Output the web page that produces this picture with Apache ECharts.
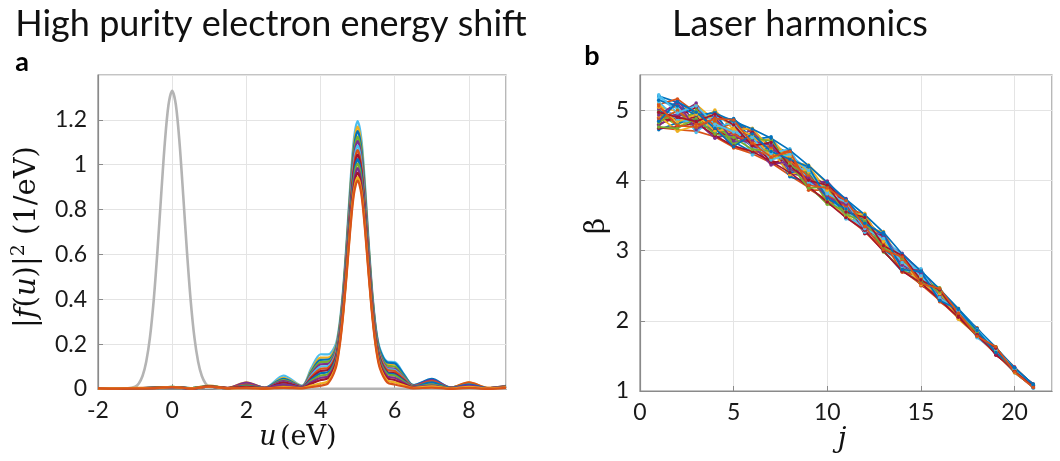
<!DOCTYPE html>
<html>
<head>
<meta charset="utf-8">
<script src="https://cdn.jsdelivr.net/npm/echarts@6/dist/echarts.min.js"></script>
<style>
  html, body { margin: 0; padding: 0; background: #fff; }
  #chart { width: 1060px; height: 461px; }
</style>
</head>
<body>
<div id="chart"></div>
<script>
'use strict'
// ---- panel a: energy spectra ----
// shared u grid (eV) for the shifted spectra
const uGrid = [-2, -1.5, -1, -0.5, 0, 0.5, 1, 1.5, 2, 2.5, 3, 3.5, 3.75, 4, 4.2, 4.4, 4.5, 4.6, 4.7, 4.8,
  4.9, 5, 5.1, 5.2, 5.3, 5.4, 5.5, 5.6, 5.8, 6, 6.25, 6.5, 7, 7.5, 8, 8.5, 9];
// |f(u)|^2 of each shifted run, one row per run
const spectra = [
  [0.002,0.003,0.004,0.005,0.008,0.003,0.012,0.004,0.020,0.006,0.060,0.015,0.093,0.155,0.154,0.195,0.277,0.430,0.652,0.908,1.116,1.195,1.116,0.908,0.650,0.423,0.263,0.180,0.122,0.120,0.066,0.018,0.040,0.006,0.025,0.004,0.012],
  [0.003,0.002,0.005,0.004,0.010,0.004,0.015,0.005,0.030,0.005,0.050,0.013,0.084,0.140,0.140,0.183,0.267,0.419,0.638,0.889,1.093,1.170,1.093,0.889,0.637,0.413,0.255,0.171,0.113,0.110,0.061,0.017,0.035,0.005,0.030,0.005,0.010],
  [0.002,0.003,0.003,0.006,0.007,0.002,0.010,0.003,0.025,0.006,0.045,0.012,0.078,0.130,0.131,0.176,0.259,0.410,0.627,0.874,1.074,1.150,1.074,0.874,0.626,0.407,0.253,0.173,0.118,0.115,0.063,0.017,0.045,0.007,0.020,0.003,0.014],
  [0.003,0.002,0.004,0.005,0.009,0.003,0.013,0.004,0.020,0.004,0.040,0.010,0.072,0.120,0.122,0.168,0.251,0.400,0.612,0.855,1.051,1.125,1.051,0.855,0.611,0.396,0.243,0.161,0.104,0.100,0.055,0.015,0.030,0.005,0.025,0.004,0.011],
  [0.002,0.003,0.004,0.004,0.008,0.003,0.011,0.005,0.028,0.005,0.035,0.011,0.066,0.110,0.112,0.160,0.243,0.391,0.602,0.840,1.032,1.105,1.032,0.840,0.601,0.387,0.235,0.153,0.094,0.090,0.050,0.014,0.040,0.006,0.015,0.003,0.012],
  [0.003,0.002,0.003,0.005,0.010,0.004,0.014,0.003,0.015,0.004,0.030,0.009,0.060,0.100,0.103,0.152,0.235,0.382,0.590,0.825,1.013,1.085,1.013,0.825,0.589,0.379,0.229,0.147,0.090,0.085,0.047,0.013,0.025,0.004,0.020,0.004,0.010],
  [0.002,0.003,0.004,0.006,0.007,0.002,0.012,0.004,0.020,0.005,0.025,0.008,0.054,0.090,0.094,0.145,0.228,0.374,0.579,0.809,0.995,1.065,0.995,0.809,0.578,0.372,0.224,0.143,0.085,0.080,0.044,0.012,0.035,0.006,0.030,0.005,0.013],
  [0.003,0.002,0.003,0.004,0.009,0.003,0.010,0.004,0.010,0.003,0.030,0.008,0.048,0.080,0.085,0.137,0.220,0.365,0.567,0.794,0.976,1.045,0.976,0.794,0.567,0.363,0.216,0.135,0.076,0.070,0.039,0.011,0.020,0.004,0.015,0.003,0.009],
  [0.002,0.003,0.004,0.005,0.008,0.004,0.011,0.003,0.015,0.004,0.020,0.007,0.042,0.070,0.075,0.129,0.213,0.356,0.556,0.779,0.957,1.025,0.957,0.779,0.555,0.355,0.211,0.129,0.071,0.065,0.036,0.010,0.030,0.005,0.020,0.004,0.011],
  [0.003,0.002,0.003,0.005,0.010,0.003,0.013,0.004,0.012,0.003,0.015,0.006,0.036,0.060,0.066,0.121,0.205,0.348,0.545,0.764,0.939,1.005,0.939,0.764,0.545,0.348,0.205,0.124,0.066,0.060,0.033,0.009,0.020,0.003,0.010,0.003,0.010],
  [0.002,0.003,0.004,0.004,0.007,0.002,0.010,0.003,0.008,0.003,0.020,0.006,0.030,0.050,0.057,0.114,0.197,0.339,0.534,0.749,0.920,0.985,0.920,0.749,0.534,0.339,0.197,0.117,0.057,0.050,0.028,0.008,0.015,0.003,0.015,0.003,0.008],
  [0.003,0.002,0.003,0.005,0.009,0.003,0.012,0.004,0.010,0.003,0.010,0.005,0.024,0.040,0.048,0.106,0.190,0.330,0.522,0.733,0.901,0.965,0.901,0.733,0.522,0.330,0.190,0.108,0.048,0.040,0.022,0.006,0.010,0.003,0.008,0.002,0.009],
  [0.002,0.003,0.004,0.004,0.008,0.003,0.010,0.003,0.005,0.002,0.008,0.004,0.015,0.025,0.034,0.095,0.180,0.321,0.510,0.718,0.883,0.945,0.883,0.718,0.511,0.322,0.182,0.100,0.038,0.030,0.017,0.005,0.012,0.002,0.010,0.002,0.007],
  [0.003,0.002,0.003,0.004,0.009,0.002,0.011,0.003,0.004,0.002,0.005,0.003,0.009,0.015,0.025,0.088,0.173,0.314,0.502,0.707,0.869,0.930,0.869,0.707,0.502,0.315,0.175,0.092,0.029,0.020,0.011,0.003,0.006,0.001,0.005,0.001,0.005]
];
// unshifted reference spectrum (grey)
const refU = [-2, -1.5, -1.2, -1, -0.9, -0.8, -0.7, -0.6, -0.5, -0.4, -0.3, -0.2, -0.1, 0, 0.1, 0.2, 0.3, 0.4,
  0.5, 0.6, 0.7, 0.8, 0.9, 1, 1.2, 1.5, 2, 3, 4, 5, 6, 7, 8, 9];
const refF = [0.002, 0.002, 0.003, 0.010, 0.025, 0.058, 0.122, 0.229, 0.392, 0.609, 0.857, 1.094, 1.266, 1.330,
  1.266, 1.094, 0.857, 0.609, 0.392, 0.229, 0.122, 0.058, 0.025, 0.010, 0.003, 0.002, 0.001, 0.001, 0.001,
  0.001, 0.001, 0.001, 0.001, 0.001];

// ---- panel b: laser harmonics ----
const harmonicJ = [1, 2, 3, 4, 5, 6, 7, 8, 9, 10, 11, 12, 13, 14, 15, 16, 17, 18, 19, 20, 21];
const betaRuns = [
  [5.20,5.11,4.95,4.90,4.87,4.67,4.50,4.39,4.09,3.92,3.72,3.43,3.21,2.84,2.68,2.39,2.13,1.87,1.59,1.32,1.08],
  [4.75,4.72,4.70,4.62,4.47,4.38,4.25,4.07,3.90,3.70,3.48,3.27,3.00,2.72,2.52,2.29,2.04,1.78,1.53,1.27,1.05],
  [5.05,4.98,5.08,4.85,4.70,4.52,4.60,4.30,4.20,3.85,3.55,3.50,3.10,2.90,2.58,2.42,2.08,1.84,1.61,1.29,1.06],
  [4.88,5.14,4.80,4.95,4.60,4.72,4.35,4.42,3.95,3.98,3.62,3.30,3.25,2.78,2.72,2.33,2.15,1.80,1.55,1.33,1.09],
  [4.95,4.78,4.98,4.70,4.85,4.45,4.55,4.15,4.12,3.75,3.70,3.36,3.05,2.94,2.55,2.45,2.06,1.89,1.58,1.28,1.07],
  [5.15,5.02,4.72,4.80,4.52,4.62,4.40,4.35,4.00,3.80,3.52,3.45,3.15,2.75,2.62,2.35,2.16,1.82,1.62,1.31,1.04],
  [4.80,4.90,5.04,4.65,4.75,4.50,4.28,4.20,4.18,3.68,3.65,3.25,3.20,2.88,2.50,2.40,2.10,1.86,1.52,1.30,1.10],
  [5.00,4.85,4.88,4.98,4.55,4.40,4.48,4.05,3.98,3.90,3.46,3.40,3.00,2.70,2.65,2.28,2.12,1.77,1.57,1.26,1.06],
  [4.90,5.08,4.76,4.75,4.80,4.70,4.32,4.44,3.88,3.72,3.60,3.52,3.08,2.85,2.60,2.44,2.03,1.84,1.60,1.34,1.08],
  [5.10,4.75,4.92,4.88,4.62,4.55,4.58,4.25,4.22,3.95,3.50,3.32,3.27,2.80,2.57,2.32,2.18,1.79,1.54,1.29,1.05],
  [4.78,4.95,4.84,4.60,4.68,4.48,4.46,4.10,4.05,3.88,3.74,3.28,3.12,2.96,2.70,2.38,2.05,1.85,1.59,1.32,1.07],
  [4.98,4.80,5.00,4.82,4.50,4.65,4.30,4.38,3.92,3.66,3.58,3.48,2.98,2.74,2.53,2.46,2.11,1.81,1.63,1.27,1.09],
  [5.18,5.05,4.68,4.92,4.78,4.36,4.52,4.18,4.15,3.82,3.45,3.38,3.18,2.92,2.66,2.30,2.14,1.76,1.56,1.31,1.04],
  [4.85,4.88,4.90,4.72,4.58,4.68,4.24,4.32,4.02,3.96,3.66,3.24,3.22,2.76,2.73,2.36,2.07,1.88,1.51,1.33,1.06],
  [4.72,4.82,4.86,4.68,4.88,4.58,4.62,4.12,4.10,3.78,3.56,3.44,3.02,2.82,2.55,2.43,2.17,1.83,1.58,1.28,1.10],
  [5.08,5.16,4.96,4.78,4.46,4.42,4.36,4.40,3.86,3.86,3.64,3.35,3.14,2.69,2.64,2.27,2.09,1.90,1.55,1.30,1.08],
  [4.92,4.70,4.78,5.00,4.72,4.74,4.44,4.08,4.16,3.72,3.48,3.53,3.06,2.87,2.51,2.40,2.02,1.80,1.61,1.26,1.07],
  [5.02,4.92,5.10,4.62,4.64,4.50,4.22,4.28,3.94,3.99,3.68,3.30,3.24,2.79,2.69,2.34,2.12,1.86,1.53,1.34,1.05],
  [4.82,5.00,4.74,4.86,4.53,4.60,4.56,4.22,4.08,3.70,3.54,3.42,3.09,2.90,2.59,2.47,2.06,1.78,1.62,1.29,1.09],
  [5.12,4.86,4.82,4.76,4.82,4.46,4.38,4.45,3.97,3.84,3.60,3.26,3.16,2.77,2.74,2.31,2.15,1.82,1.57,1.32,1.06],
  [4.74,4.76,4.82,4.64,4.49,4.41,4.27,4.11,3.91,3.69,3.47,3.29,2.99,2.71,2.54,2.30,2.05,1.79,1.54,1.28,1.06],
  [5.14,5.06,4.93,4.96,4.84,4.73,4.60,4.43,4.21,3.97,3.73,3.51,3.26,2.95,2.71,2.45,2.17,1.89,1.62,1.33,1.09],
  [4.86,4.99,4.80,4.84,4.66,4.52,4.47,4.27,4.06,3.79,3.63,3.37,3.11,2.86,2.61,2.37,2.10,1.83,1.57,1.30,1.07],
  [5.04,4.83,4.94,4.70,4.74,4.64,4.34,4.34,4.12,3.86,3.57,3.46,3.13,2.81,2.63,2.39,2.08,1.85,1.58,1.31,1.07],
  [4.93,5.10,4.72,4.90,4.56,4.56,4.50,4.16,4.03,3.76,3.66,3.33,3.19,2.79,2.67,2.34,2.13,1.81,1.60,1.29,1.08],
  [4.76,4.74,4.88,4.66,4.61,4.44,4.42,4.23,3.89,3.91,3.51,3.41,3.04,2.89,2.56,2.41,2.09,1.84,1.56,1.30,1.06],
  [5.22,4.96,5.06,4.80,4.69,4.61,4.29,4.37,4.14,3.81,3.69,3.31,3.17,2.83,2.64,2.33,2.14,1.87,1.59,1.32,1.08],
  [4.97,4.90,4.84,4.94,4.79,4.49,4.54,4.20,4.00,3.93,3.55,3.47,3.07,2.93,2.58,2.44,2.07,1.80,1.61,1.28,1.07],
  [4.84,5.12,4.97,4.74,4.48,4.66,4.41,4.30,4.19,3.74,3.59,3.39,3.23,2.73,2.70,2.29,2.16,1.86,1.55,1.33,1.09],
  [5.06,4.78,4.76,4.88,4.86,4.53,4.33,4.41,3.93,3.89,3.71,3.34,3.01,2.91,2.53,2.46,2.11,1.78,1.63,1.27,1.05]
];

// matlab line colours
const palette = ['#0072BD', '#D95319', '#EDB120', '#7E2F8E', '#77AC30', '#4DBEEE', '#A2142F'];
const spectraColors = ['#4DBEEE', '#EDB120', '#0072BD', '#77AC30', '#7E2F8E', '#4DBEEE', '#D95319',
  '#A2142F', '#0072BD', '#77AC30', '#7E2F8E', '#A2142F', '#EDB120', '#D95319'];

const tickFont = { fontFamily: 'Lato', fontSize: 23, color: '#1a1a1a' };
const frameColor = '#8a8a8a';

function valueAxis(idx, min, max, step, margin) {
    return {
        type: 'value', gridIndex: idx, min: min, max: max, interval: step,
        axisLine: { show: true, onZero: false, lineStyle: { color: frameColor, width: 1.2 } },
        axisTick: { show: true, inside: true, length: 5, lineStyle: { color: frameColor } },
        axisLabel: Object.assign({ margin: margin, showMaxLabel: false, hideOverlap: false }, tickFont),
        splitLine: { show: true, lineStyle: { color: '#e4e4e4', width: 1 } }
    };
}

let series = [];
series.push({
    type: 'line', xAxisIndex: 0, yAxisIndex: 0,
    data: refU.map((u, i) => [u, refF[i]]),
    smooth: 0.3, showSymbol: false,
    lineStyle: { color: '#b4b4b4', width: 2.6 }
});
spectra.forEach(function (ys, k) {
    series.push({
        type: 'line', xAxisIndex: 0, yAxisIndex: 0,
        data: uGrid.map((u, i) => [u, ys[i]]),
        smooth: 0.3, showSymbol: false,
        lineStyle: { color: spectraColors[k], width: 2.2 }
    });
});
betaRuns.forEach(function (bs, k) {
    let c = palette[k % palette.length];
    series.push({
        type: 'line', xAxisIndex: 1, yAxisIndex: 1,
        data: harmonicJ.map((j, i) => [j, bs[i]]),
        symbol: 'circle', symbolSize: 3.5, showSymbol: true,
        lineStyle: { color: c, width: 1.7 },
        itemStyle: { color: c }
    });
});

let chart = echarts.init(document.getElementById('chart'), null, { renderer: 'canvas' });
let option = {
    animation: false,
    backgroundColor: '#ffffff',
    grid: [
        { left: 98, top: 75, width: 408, height: 314, show: true, borderColor: frameColor, borderWidth: 1.2, backgroundColor: '#fff' },
        { left: 640, top: 75, width: 412, height: 316, show: true, borderColor: frameColor, borderWidth: 1.2, backgroundColor: '#fff' }
    ],
    xAxis: [valueAxis(0, -2, 9, 2, 10), valueAxis(1, 0, 22, 5, 10)],
    yAxis: [valueAxis(0, 0, 1.4, 0.2, 11), valueAxis(1, 1, 5.5, 1, 11)],
    series: series,
    graphic: [
        { type: 'text', x: 271, y: 24, style: { text: 'High purity electron energy shift', font: '36px Lato', fill: '#111', align: 'center', verticalAlign: 'middle' } },
        { type: 'text', x: 800, y: 24, style: { text: 'Laser harmonics', font: '36px Lato', fill: '#111', align: 'center', verticalAlign: 'middle' } },
        { type: 'text', x: 22, y: 62, style: { text: 'a', font: 'bold 27px Lato', fill: '#000', align: 'center', verticalAlign: 'middle' } },
        { type: 'text', x: 592, y: 56, style: { text: 'b', font: 'bold 27px Lato', fill: '#000', align: 'center', verticalAlign: 'middle' } },
        {
            type: 'text', x: 298, y: 438,
            style: {
                text: '{i|u} {r|(eV)}', align: 'center', verticalAlign: 'middle',
                rich: {
                    i: { fontFamily: 'DejaVu Serif', fontStyle: 'italic', fontSize: 27, fill: '#111' },
                    r: { fontFamily: 'DejaVu Serif', fontSize: 27, fill: '#111' }
                }
            }
        },
        {
            type: 'text', x: 27, y: 237, rotation: Math.PI / 2,
            style: {
                text: '{r||}{i|f}{r|(}{i|u}{r|)|}{s|2}{r| (1/eV)}', align: 'center', verticalAlign: 'middle',
                rich: {
                    i: { fontFamily: 'DejaVu Serif', fontStyle: 'italic', fontSize: 29, fill: '#111', lineHeight: 34 },
                    r: { fontFamily: 'DejaVu Serif', fontSize: 29, fill: '#111', lineHeight: 34 },
                    s: { fontFamily: 'DejaVu Serif', fontSize: 19, fill: '#111', verticalAlign: 'top', lineHeight: 34 }
                }
            }
        },
        { type: 'text', x: 842, y: 440, style: { text: 'j', font: 'italic 28px "DejaVu Serif"', fill: '#111', align: 'center', verticalAlign: 'middle' } },
        { type: 'text', x: 597, y: 226, rotation: Math.PI / 2, style: { text: 'β', font: '28px "DejaVu Serif"', fill: '#111', align: 'center', verticalAlign: 'middle' } }
    ]
};
chart.setOption(option);
window.onresize = chart.resize;
</script>
</body>
</html>
